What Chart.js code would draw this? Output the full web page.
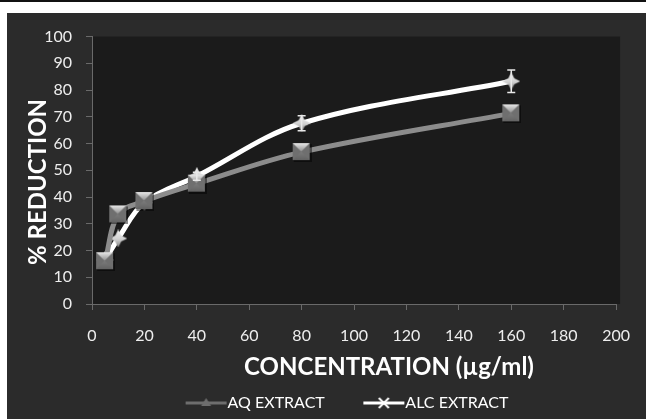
<!DOCTYPE html>
<html>
<head>
<meta charset="utf-8">
<script src="https://cdn.jsdelivr.net/npm/chart.js@4/dist/chart.umd.min.js"></script>
<style>
  html, body { margin: 0; padding: 0; background: #ffffff; width: 646px; height: 419px; overflow: hidden; }
  #topline { position: absolute; left: 0; top: 0; width: 646px; height: 2px; background: #111; }
  #wrap { position: absolute; left: 7px; top: 13px; width: 639px; height: 406px; background: #2b2b2b; }
  canvas { display: block; }
</style>
</head>
<body>
<div id="topline"></div>
<div id="wrap"><canvas id="c" width="639" height="406"></canvas></div>
<script>
// ---- data ----
const concentrations = [5, 10, 20, 40, 80, 160];
const aqExtract  = [16, 33.5, 38.5, 45, 56.8, 71.3];
const alcExtract = [16.5, 24.5, 38, 47.8, 67.6, 83.3];
const aqError  = [0, 0, 0, 0, 0, 0];
const alcError = [0, 0, 0, 1.5, 2.8, 4.2];
const xTicks = [0, 20, 40, 60, 80, 100, 120, 140, 160, 180, 200];
const yTicks = [0, 10, 20, 30, 40, 50, 60, 70, 80, 90, 100];
const seriesNames = ['AQ EXTRACT', 'ALC EXTRACT'];
const xTitle = 'CONCENTRATION (µg/ml)';
const yTitle = '% REDUCTION';

const FONT = 'Lato, "Open Sans", sans-serif';

// ---- marker images ----
function squareMarker() {
  const s = 20, c = document.createElement('canvas');
  c.width = s; c.height = s;
  const g = c.getContext('2d');
  g.fillStyle = 'rgba(0,0,0,0.45)';
  g.fillRect(2, 2, s - 2, s - 2);
  g.fillStyle = '#6f6f6f';
  g.fillRect(1, 1, s - 3, s - 3);
  const gr = g.createLinearGradient(0, 1, 0, 10);
  gr.addColorStop(0, '#e8e8e8'); gr.addColorStop(1, '#8a8a8a');
  g.fillStyle = gr;
  g.beginPath(); g.moveTo(1, 1); g.lineTo(s - 2, 1); g.lineTo(s / 2 - 0.5, s / 2 - 0.5); g.closePath(); g.fill();
  const gr2 = g.createLinearGradient(0, 0, 0, s);
  gr2.addColorStop(0, '#9a9a9a'); gr2.addColorStop(1, '#5c5c5c');
  g.fillStyle = gr2;
  g.beginPath(); g.moveTo(1, s - 2); g.lineTo(s - 2, s - 2); g.lineTo(s / 2 - 0.5, s / 2 - 0.5); g.closePath(); g.fill();
  return c;
}
function diamondMarker() {
  const s = 18, c = document.createElement('canvas');
  c.width = s; c.height = s;
  const g = c.getContext('2d');
  const h = s / 2;
  const gr = g.createLinearGradient(0, 0, 0, s);
  gr.addColorStop(0, '#f4f4f4'); gr.addColorStop(0.55, '#d0d0d0'); gr.addColorStop(1, '#7a7a7a');
  g.fillStyle = gr;
  g.beginPath();
  g.moveTo(h, 0); g.lineTo(h + 3, h - 3); g.lineTo(s, h); g.lineTo(h + 3, h + 3);
  g.lineTo(h, s); g.lineTo(h - 3, h + 3); g.lineTo(0, h); g.lineTo(h - 3, h - 3);
  g.closePath(); g.fill();
  return c;
}
// legend swatch: 56px wide image centred on a 40px box; line drawn from 14 to 55
function legendImage(color, kind) {
  const w = 56, hgt = 14, c = document.createElement('canvas');
  c.width = w; c.height = hgt;
  const g = c.getContext('2d');
  const x0 = 14, x1 = 55, mid = (x0 + x1) / 2;
  g.strokeStyle = color; g.lineWidth = 3;
  g.beginPath(); g.moveTo(x0, hgt / 2); g.lineTo(x1, hgt / 2); g.stroke();
  if (kind === 'tri') {
    g.fillStyle = color;
    g.beginPath(); g.moveTo(mid, 2); g.lineTo(mid + 5, hgt / 2 + 3); g.lineTo(mid - 5, hgt / 2 + 3); g.closePath(); g.fill();
  } else {
    g.lineWidth = 2;
    g.beginPath();
    g.moveTo(mid - 5, 2); g.lineTo(mid + 5, hgt - 2);
    g.moveTo(mid + 5, 2); g.lineTo(mid - 5, hgt - 2);
    g.stroke();
  }
  return c;
}

const sqImg = squareMarker();
const dmImg = diamondMarker();
const legAQ = legendImage('#6e6e6e', 'tri');
const legALC = legendImage('#ffffff', 'x');

const plotBg = {
  id: 'plotBg',
  beforeDraw(chart) {
    const a = chart.chartArea, ctx = chart.ctx;
    ctx.save();
    ctx.fillStyle = '#1b1b1b';
    ctx.fillRect(a.left, a.top, a.right - a.left + 4, a.bottom - a.top);
    ctx.restore();
  }
};
const errorBars = {
  id: 'errorBars',
  afterDatasetsDraw(chart) {
    const ctx = chart.ctx, xs = chart.scales.x, ys = chart.scales.y;
    chart.data.datasets.forEach(ds => {
      if (!ds.errors) return;
      ctx.save();
      ctx.strokeStyle = ds.errorColor; ctx.lineWidth = 1.5;
      ds.data.forEach((p, i) => {
        const e = ds.errors[i];
        if (!e) return;
        const x = xs.getPixelForValue(p.x);
        const y1 = ys.getPixelForValue(p.y + e), y2 = ys.getPixelForValue(p.y - e);
        ctx.beginPath();
        ctx.moveTo(x, y1); ctx.lineTo(x, y2);
        ctx.moveTo(x - 4, y1); ctx.lineTo(x + 4, y1);
        ctx.moveTo(x - 4, y2); ctx.lineTo(x + 4, y2);
        ctx.stroke();
      });
      ctx.restore();
    });
  }
};
const legendShift = {
  id: 'legendShift',
  afterLayout(chart) {
    const l = chart.legend;
    if (l) { l.left += 23; l.right += 23; l.top += 5; l.bottom += 5; }
  }
};

const toPts = (ys) => concentrations.map((x, i) => ({ x, y: ys[i] }));

new Chart(document.getElementById('c'), {
  type: 'line',
  data: {
    datasets: [
      {
        label: seriesNames[0],
        data: toPts(aqExtract),
        errors: aqError, errorColor: '#9a9a9a',
        borderColor: '#8c8c8c', borderWidth: 5,
        tension: 0.35,
        pointStyle: sqImg, pointRadius: 10, pointHoverRadius: 10,
        legendImg: legAQ, legendGap: 6
      },
      {
        label: seriesNames[1],
        data: toPts(alcExtract),
        errors: alcError, errorColor: '#e8e8e8',
        borderColor: '#ffffff', borderWidth: 5,
        tension: 0.35,
        pointStyle: dmImg, pointRadius: 9, pointHoverRadius: 9,
        legendImg: legALC, legendGap: 0
      }
    ]
  },
  options: {
    responsive: false,
    animation: false,
    layout: { padding: { top: 22, right: 25, left: 14, bottom: 3 } },
    plugins: {
      tooltip: { enabled: false },
      legend: {
        position: 'bottom',
        labels: {
          usePointStyle: true,
          pointStyleWidth: 40,
          color: '#ffffff',
          font: { family: FONT, size: 16 },
          padding: 8,
          generateLabels(chart) {
            return chart.data.datasets.map((ds, i) => ({
              text: ds.label + ' '.repeat(ds.legendGap), pointStyle: ds.legendImg, fontColor: '#ffffff',
              datasetIndex: i, hidden: false, lineWidth: 0, strokeStyle: 'transparent', fillStyle: 'transparent'
            }));
          }
        }
      }
    },
    scales: {
      x: {
        type: 'linear', min: 0, max: 200,
        afterBuildTicks(s) { s.ticks = xTicks.map(v => ({ value: v })); },
        afterFit(s) { s.height = 78; },
        ticks: { color: '#eeeeee', font: { family: FONT, size: 16 }, padding: 16 },
        grid: { drawOnChartArea: false, color: '#6a6a6a', tickLength: 6 },
        border: { color: '#6a6a6a' },
        title: { display: true, text: '            ' + xTitle, color: '#ffffff',
                 font: { family: FONT, size: 24, weight: 'bold' }, padding: { top: 0, bottom: 0 } }
      },
      y: {
        min: 0, max: 100,
        afterBuildTicks(s) { s.ticks = yTicks.map(v => ({ value: v })); },
        afterFit(s) { s.width = 71; },
        ticks: { color: '#eeeeee', font: { family: FONT, size: 16 }, padding: 14 },
        grid: { drawOnChartArea: false, color: '#6a6a6a', tickLength: 6 },
        border: { color: '#6a6a6a' },
        title: { display: true, text: yTitle + '    ', color: '#ffffff',
                 font: { family: FONT, size: 24, weight: 'bold' }, padding: { top: 3, bottom: 3 } }
      }
    }
  },
  plugins: [plotBg, errorBars, legendShift]
});
</script>
</body>
</html>
